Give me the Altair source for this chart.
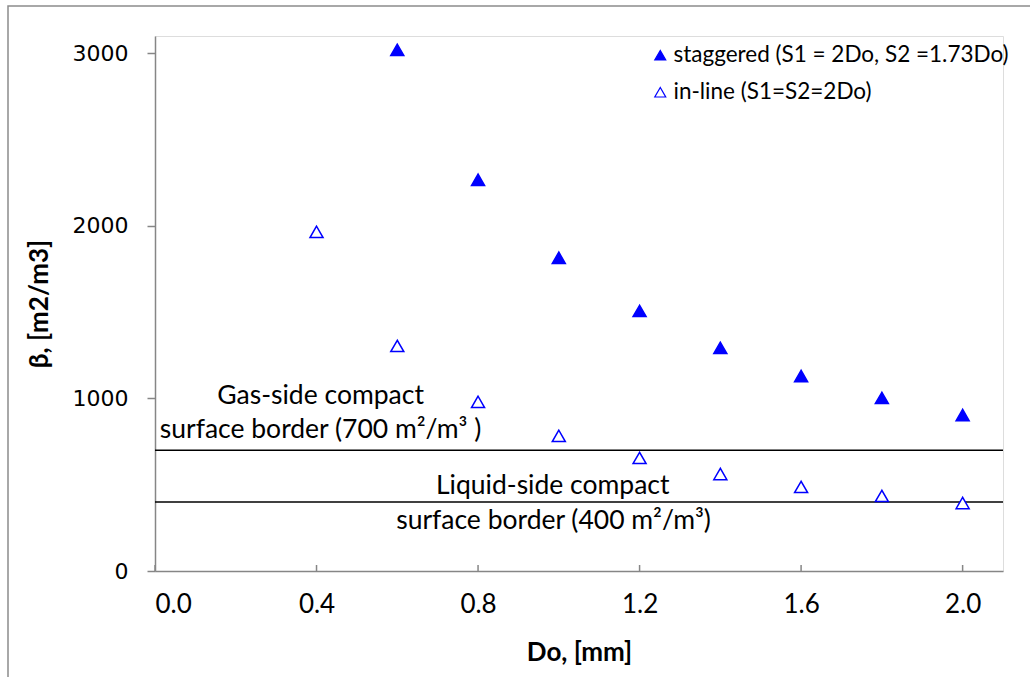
import altair as alt
import pandas as pd

# Data
do_stag = [0.6, 0.8, 1.0, 1.2, 1.4, 1.6, 1.8, 2.0]
beta_stag = [3020, 2267, 1815, 1507, 1293, 1130, 1003, 904]
do_inline = [0.4, 0.6, 0.8, 1.0, 1.2, 1.4, 1.6, 1.8, 2.0]
beta_inline = [1965, 1304, 980, 783, 655, 562, 487, 435, 394]
series_names = ["staggered (S1 = 2Do, S2 =1.73Do)", "in-line (S1=S2=2Do)"]
x_ticks = [0.0, 0.4, 0.8, 1.2, 1.6, 2.0]
y_ticks = [0, 1000, 2000, 3000]
borders = [700, 400]
ann_text = ["Gas-side compact", "surface border (700 m²/m³ )",
            "Liquid-side compact", "surface border (400 m²/m³)"]
ann_x = [0.41, 0.41, 0.985, 0.987]
ann_y = [1015, 815, 490, 289]

W, H = 848, 535
PL, PT = 155, 36
FONT = "Lato"

pts = pd.DataFrame(
    {"Do": do_stag + do_inline,
     "beta": beta_stag + beta_inline,
     "series": [series_names[0]] * len(do_stag) + [series_names[1]] * len(do_inline)}
)

xs = alt.Scale(domain=[0, 2.1], nice=False, zero=False)
ys = alt.Scale(domain=[0, 3100], nice=False)

leg = alt.Legend(title=None, orient="none", legendX=494, legendY=8,
                 labelFont=FONT, labelFontSize=22.5, labelColor="#000", labelLimit=0,
                 symbolType="triangle-up", symbolSize=120, rowPadding=14,
                 symbolStrokeWidth=1.2, labelOffset=2)

points = alt.Chart(pts).mark_point(shape="triangle-up", size=170, strokeWidth=1.5, opacity=1).encode(
    x=alt.X("Do:Q", scale=xs,
            axis=alt.Axis(title="Do, [mm]", values=x_ticks, format=".1f", ticks=False,
                          labelFont=FONT, labelFontSize=26, labelColor="#000", labelPadding=20,
                          titleFont=FONT, titleFontSize=26, titleFontWeight="bold", titleColor="#000",
                          titlePadding=22, domainColor="#868686", domainWidth=1.5, grid=False)),
    y=alt.Y("beta:Q", scale=ys,
            axis=alt.Axis(title="β, [m2/m3]", values=y_ticks, format="d", tickSize=8,
                          tickColor="#868686", tickWidth=1.5,
                          labelFont="DejaVu Sans", labelFontSize=22, labelColor="#000",
                          labelPadding=19,
                          titleFont=FONT, titleFontSize=26, titleFontWeight="bold", titleColor="#000",
                          titlePadding=20, domainColor="#868686", domainWidth=1.5, grid=False)),
    color=alt.Color("series:N", scale=alt.Scale(domain=series_names, range=["#0000ff", "#0000ff"]),
                    legend=leg),
    fill=alt.Fill("series:N", scale=alt.Scale(domain=series_names, range=["#0000ff", "#ffffff"]),
                  legend=leg),
)

xtick_df = pd.DataFrame({"Do": x_ticks})
xticks = alt.Chart(xtick_df).mark_rule(color="#868686", strokeWidth=1.5).encode(
    x=alt.X("Do:Q", scale=xs), y=alt.value(H), y2=alt.value(H - 6)
)

border_df = pd.DataFrame({"beta": borders, "x0": [0, 0], "x1": [2.1, 2.1]})
lines = alt.Chart(border_df).mark_rule(color="#000", strokeWidth=1.5).encode(
    x=alt.X("x0:Q", scale=xs), x2="x1:Q", y=alt.Y("beta:Q", scale=ys)
)

ann_df = pd.DataFrame({"Do": ann_x, "beta": ann_y, "txt": ann_text})
ann = alt.Chart(ann_df).mark_text(font=FONT, fontSize=26.5, color="#000", align="center",
                                  baseline="middle").encode(
    x=alt.X("Do:Q", scale=xs), y=alt.Y("beta:Q", scale=ys), text="txt:N"
)

frame = alt.Chart(xtick_df.head(1)).mark_rect(fill=None, stroke="#8c8c8c", strokeWidth=1.5).encode(
    x=alt.value(8 - PL), x2=alt.value(1040 - PL), y=alt.value(6 - PT), y2=alt.value(690 - PT)
)

chart = alt.layer(frame, lines, xticks, ann, points).properties(
    width=W, height=H,
    autosize=alt.AutoSizeParams(type="none"),
    padding={"left": PL, "top": PT, "right": 1030 - PL - W, "bottom": 677 - PT - H},
).configure_view(stroke=None).configure(background="white")

chart.save("out.html", embed_options={"renderer": "svg", "actions": False})
